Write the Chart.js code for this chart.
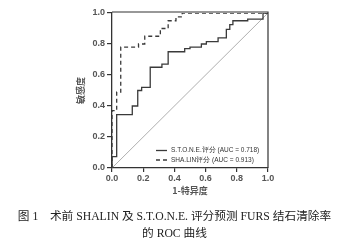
<!DOCTYPE html>
<html>
<head>
<meta charset="utf-8">
<script src="https://cdn.jsdelivr.net/npm/chart.js@4"></script>
<style>
  html, body { margin: 0; padding: 0; background: #fff; }
  #wrap { position: relative; width: 349px; height: 244px; overflow: hidden; }
  canvas { position: absolute; left: 0; top: 0; }
  .cap { position: absolute; left: 0; width: 349px; text-align: center; font-family: "Liberation Serif", "Noto Sans CJK SC", serif; font-size: 11.7px; color: #222; white-space: nowrap; }
</style>
</head>
<body>
<div id="wrap">
  <canvas id="c" width="349" height="244"></canvas>
  <div class="cap" style="top:206px;">图 1　术前 SHALIN 及 S.T.O.N.E. 评分预测 FURS 结石清除率</div>
  <div class="cap" style="top:223px;">的 ROC 曲线</div>
</div>
<script>
// ---- data (vertices at top of each vertical step; drawn horizontal-then-vertical) ----
const tickValues = [0.0, 0.2, 0.4, 0.6, 0.8, 1.0];
const stoneFPR = [0, 0, 0.03, 0.13, 0.165, 0.19, 0.245, 0.32, 0.36, 0.466, 0.50, 0.573, 0.605, 0.68, 0.733, 0.755, 0.775, 0.87, 0.968, 1.0];
const stoneTPR = [0, 0.074, 0.345, 0.40, 0.50, 0.52, 0.65, 0.67, 0.75, 0.77, 0.78, 0.80, 0.815, 0.84, 0.895, 0.925, 0.95, 0.96, 1.0, 1.0];
const shalinFPR = [0, 0, 0.03, 0.056, 0.17, 0.21, 0.31, 0.36, 0.41, 0.45, 1.0];
const shalinTPR = [0, 0.37, 0.49, 0.78, 0.80, 0.85, 0.90, 0.95, 0.975, 1.0, 1.0];
const refFPR = [0, 1];
const refTPR = [0, 1];
const stoneLabel = "S.T.O.N.E.评分 (AUC = 0.718)";
const shalinLabel = "SHA.LIN评分 (AUC = 0.913)";
const xTitle = "1-特异度";
const yTitle = "敏感度";

const toPts = (xs, ys) => xs.map((x, i) => ({ x: x, y: ys[i] }));

const frameLegend = {
  id: 'frameLegend',
  afterDraw(chart) {
    const { ctx, chartArea: a } = chart;
    ctx.save();
    // top & right frame
    ctx.strokeStyle = '#333';
    ctx.lineWidth = 1.2;
    ctx.beginPath();
    ctx.moveTo(a.left, a.top - 1);
    ctx.lineTo(a.right, a.top - 1);
    ctx.lineTo(a.right, a.bottom);
    ctx.stroke();
    // legend inside plot (bottom-right)
    const items = [chart.data.datasets[0], chart.data.datasets[1]];
    ctx.font = '6.5px "Liberation Sans", Arial, sans-serif';
    ctx.textBaseline = 'middle';
    ctx.fillStyle = '#333';
    items.forEach((ds, i) => {
      const y = a.bottom - 17.5 + i * 9.5;
      const x0 = a.left + 44;
      ctx.strokeStyle = ds.borderColor;
      ctx.lineWidth = 1.3;
      ctx.setLineDash(ds.borderDash || []);
      ctx.beginPath();
      ctx.moveTo(x0, y);
      ctx.lineTo(x0 + 11, y);
      ctx.stroke();
      ctx.setLineDash([]);
      ctx.fillText(ds.label, x0 + 15, y);
    });
    ctx.restore();
  }
};

new Chart(document.getElementById('c'), {
  type: 'scatter',
  data: {
    datasets: [
      { label: stoneLabel, data: toPts(stoneFPR, stoneTPR), showLine: true, stepped: 'before',
        borderColor: '#3a3a3a', borderWidth: 1.3, pointRadius: 0, fill: false },
      { label: shalinLabel, data: toPts(shalinFPR, shalinTPR), showLine: true, stepped: 'before',
        borderColor: '#3a3a3a', borderWidth: 1.3, borderDash: [4, 3], pointRadius: 0, fill: false },
      { label: 'ref', data: toPts(refFPR, refTPR), showLine: true,
        borderColor: '#9a9a9a', borderWidth: 0.8, pointRadius: 0, fill: false }
    ]
  },
  options: {
    responsive: false,
    animation: false,
    layout: { padding: { left: 75, top: 13, right: 81, bottom: 48 } },
    plugins: { legend: { display: false }, tooltip: { enabled: false } },
    scales: {
      x: {
        type: 'linear', min: 0, max: 1,
        afterFit: s => { s.height = 28; },
        afterBuildTicks: s => { s.ticks = tickValues.map(v => ({ value: v })); },
        ticks: { callback: v => v.toFixed(1), color: '#555', padding: 1, maxRotation: 0,
                 font: { family: '"Liberation Sans", Arial, sans-serif', size: 9, weight: 'bold' } },
        grid: { drawOnChartArea: false, tickLength: 4, color: '#333', lineWidth: 1.2 },
        border: { color: '#333', width: 1.3 },
        title: { display: true, text: xTitle, color: '#555', padding: { top: 0, bottom: 0 },
                 font: { family: '"Noto Sans CJK SC", sans-serif', size: 9, weight: 'bold' } }
      },
      y: {
        type: 'linear', min: 0, max: 1,
        afterFit: s => { s.width = 37; },
        afterBuildTicks: s => { s.ticks = tickValues.map(v => ({ value: v })); },
        ticks: { callback: v => v.toFixed(1), color: '#555', padding: 2,
                 font: { family: '"Liberation Sans", Arial, sans-serif', size: 9, weight: 'bold' } },
        grid: { drawOnChartArea: false, tickLength: 5, color: '#333', lineWidth: 1.2 },
        border: { color: '#333', width: 1.3 },
        title: { display: true, text: yTitle, color: '#555', padding: { top: 0, bottom: 0 },
                 font: { family: '"Noto Sans CJK SC", sans-serif', size: 9, weight: 'bold' } }
      }
    }
  },
  plugins: [frameLegend]
});
</script>
</body>
</html>
